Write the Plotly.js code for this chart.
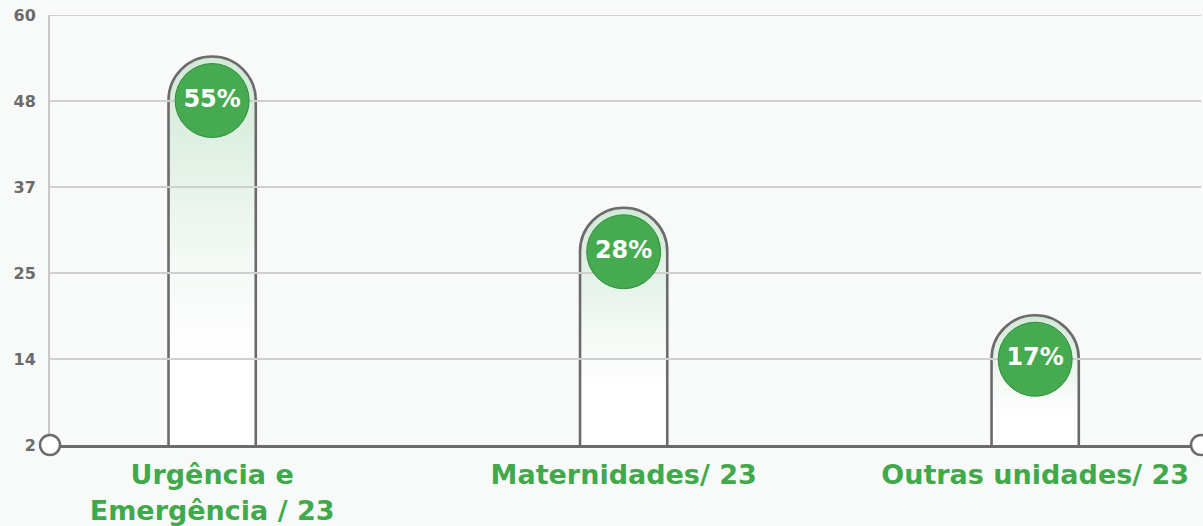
<!DOCTYPE html>
<html lang="pt-BR">
<head>
<meta charset="utf-8">
<title>Atendimentos por unidade</title>
<script src="https://cdn.plot.ly/plotly-3.0.1.min.js"></script>
<style>
html, body { margin:0; padding:0; background:#f8faf9; }
#chart { width:1203px; height:526px; }
</style>
</head>
<body>
<div id="chart"></div>
<script>
// dados
var categorias = ['Urgência e<br>Emergência / 23', 'Maternidades/ 23', 'Outras unidades/ 23'];
var valores = [54.4, 34.0, 19.5];
var percentuais = ['55%', '28%', '17%'];
var yTicks = [2, 13.6, 25.2, 36.8, 48.4, 60];
var yTickText = ['2', '14', '25', '37', '48', '60'];

var idx = categorias.map(function(c, i){ return i; });

// layout
var W = 1203, H = 526;
var mar = {l:50, r:2, t:15, b:81};
var yMin = 2, yMax = 60;
var xRange = [-0.394, 2.403];
var barW = 0.212;
var pxPerUnit = (H - mar.t - mar.b) / (yMax - yMin);
var capUnits = 44 / pxPerUnit;      // raio da tampa arredondada
var baseOculta = yMin - 12;         // base abaixo do eixo, fica cortada
var cinza = '#6b6b6b';
var verde = '#3fa94b';
var fonte = 'DejaVu Sans, Open Sans, sans-serif';

var traces = [];

// barras com topo arredondado
traces.push({
  type:'bar', x:idx,
  y:valores.map(function(v){ return v - baseOculta; }),
  base:baseOculta, width:barW,
  marker:{color:'#ffffff', cornerradius:'50%', line:{color:cinza, width:2.6}},
  hoverinfo:'skip'
});

// linhas de grade por cima das barras
yTicks.slice(1).forEach(function(t){
  traces.push({
    type:'scatter', mode:'lines', x:xRange, y:[t, t],
    line:{color:'#cfcfcf', width:2}, hoverinfo:'skip'
  });
});

// circulos com percentual
traces.push({
  type:'scatter', mode:'markers+text', x:idx,
  y:valores.map(function(v){ return v - capUnits; }),
  text:percentuais, textposition:'middle center',
  textfont:{family:fonte, size:24, color:'#ffffff', weight:700},
  marker:{size:74, color:'#45aa50', line:{color:'#2f8f3c', width:1}},
  hoverinfo:'skip', cliponaxis:false
});

// pontos nas extremidades do eixo
traces.push({
  type:'scatter', mode:'markers', x:xRange, y:[yMin, yMin],
  marker:{size:20, color:'#ffffff', line:{color:cinza, width:2.5}},
  hoverinfo:'skip', cliponaxis:false
});

var layout = {
  width:W, height:H,
  margin:mar,
  paper_bgcolor:'#f8faf9',
  plot_bgcolor:'#f8faf9',
  showlegend:false,
  xaxis:{
    range:xRange, tickvals:idx, ticktext:categorias,
    showgrid:false, zeroline:false,
    showline:true, linecolor:cinza, linewidth:3, layer:'below traces',
    ticks:'', ticklabelstandoff:4,
    tickfont:{family:fonte, size:27, color:verde, weight:700},
    fixedrange:true
  },
  yaxis:{
    range:[yMin, yMax], tickvals:yTicks, ticktext:yTickText,
    showgrid:false, zeroline:false,
    showline:true, linecolor:'#c6c6c6', linewidth:2, layer:'below traces',
    ticks:'', ticklabelstandoff:9,
    tickfont:{family:fonte, size:16, color:cinza, weight:700},
    fixedrange:true
  }
};

Plotly.newPlot('chart', traces, layout, {displayModeBar:false, staticPlot:true}).then(function(gd){
  // degrade verde claro no topo de cada barra
  var ns = 'http://www.w3.org/2000/svg';
  var svg = gd.querySelector('.main-svg');
  var defs = svg.querySelector('defs') || svg.insertBefore(document.createElementNS(ns, 'defs'), svg.firstChild);
  var paradas = [[0, '#d2e9d7'], [0.23, '#e0f0e4'], [0.35, '#e8f4eb'], [0.55, '#f5faf6'], [0.78, '#ffffff']];
  var caminhos = gd.querySelectorAll('.barlayer .point path');
  caminhos.forEach(function(p, i){
    var frac = (valores[i] - yMin) / (valores[i] - baseOculta);
    var grad = document.createElementNS(ns, 'linearGradient');
    grad.setAttribute('id', 'degrade' + i);
    grad.setAttribute('x1', '0'); grad.setAttribute('y1', '0');
    grad.setAttribute('x2', '0'); grad.setAttribute('y2', '1');
    paradas.forEach(function(s){
      var stop = document.createElementNS(ns, 'stop');
      stop.setAttribute('offset', (s[0] * frac).toFixed(3));
      stop.setAttribute('stop-color', s[1]);
      grad.appendChild(stop);
    });
    defs.appendChild(grad);
    p.style.fill = 'url(#degrade' + i + ')';
  });
});
</script>
</body>
</html>
